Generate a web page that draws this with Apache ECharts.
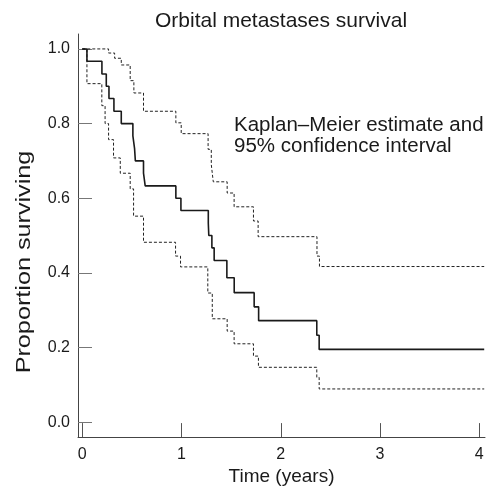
<!DOCTYPE html>
<html>
<head>
<meta charset="utf-8">
<script src="https://cdn.jsdelivr.net/npm/echarts@6/dist/echarts.min.js"></script>
<style>
html,body{margin:0;padding:0;background:#fff;}
#c{width:489px;height:491px;}
</style>
</head>
<body>
<div id="c"></div>
<script>
// Kaplan–Meier estimate: time (years) where the step occurs, survival after the step
var kmTimes  = [0, 0.047, 0.198, 0.242, 0.269, 0.319, 0.393, 0.51, 0.527, 0.535, 0.617, 0.634, 0.943, 0.994, 1.270, 1.275, 1.306, 1.329, 1.457, 1.531, 1.732, 1.777, 2.363, 2.387, 4.05];
var kmValues = [1, 0.967, 0.933, 0.9, 0.867, 0.833, 0.8, 0.767, 0.733, 0.7, 0.667, 0.633, 0.6, 0.567, 0.533, 0.5, 0.467, 0.433, 0.387, 0.347, 0.309, 0.272, 0.233, 0.195, 0.195];
// Upper 95% confidence limit
var upTimes  = [0, 0.265, 0.326, 0.393, 0.483, 0.52, 0.617, 0.943, 0.997, 1.268, 1.30, 1.32, 1.46, 1.53, 1.725, 1.772, 2.365, 2.39, 4.05];
var upValues = [1, 0.989, 0.975, 0.957, 0.915, 0.882, 0.833, 0.802, 0.773, 0.731, 0.69, 0.644, 0.614, 0.577, 0.539, 0.497, 0.445, 0.417, 0.417];
// Lower 95% confidence limit
var loTimes  = [0, 0.047, 0.197, 0.23, 0.265, 0.315, 0.383, 0.483, 0.517, 0.617, 0.94, 0.99, 1.265, 1.31, 1.46, 1.53, 1.725, 1.775, 2.363, 2.387, 4.05];
var loValues = [1, 0.907, 0.848, 0.8, 0.757, 0.708, 0.667, 0.625, 0.552, 0.482, 0.445, 0.416, 0.346, 0.277, 0.244, 0.21, 0.177, 0.147, 0.12, 0.089, 0.089];
// Tick values
var xTicks = [0, 1, 2, 3, 4];
var yTicks = [0, 0.2, 0.4, 0.6, 0.8, 1.0];

var titleText = 'Orbital metastases survival';
var xName = 'Time (years)';
var yName = 'Proportion surviving';
var noteLines = ['Kaplan\u2013Meier estimate and', '95% confidence interval'];

function pairs(t, v){ return t.map(function(x,i){ return [x, v[i]]; }); }

var FONT = '"Liberation Sans", Arial, sans-serif';
var chart = echarts.init(document.getElementById('c'), null, {renderer:'canvas'});
chart.setOption({
  animation:false,
  grid:{left:78, right:4, top:34, bottom:51, containLabel:false},
  xAxis:{
    type:'value', min:-0.043, max:4.058,
    name:xName, nameLocation:'middle', nameGap:26,
    nameTextStyle:{fontFamily:FONT, fontSize:19, color:'#1a1a1a'},
    axisLine:{onZero:false, lineStyle:{color:'#444', width:1}},
    axisTick:{inside:true, length:14, customValues:xTicks, lineStyle:{color:'#555'}},
    axisLabel:{customValues:xTicks, margin:9, fontFamily:FONT, fontSize:16, color:'#1a1a1a',
      formatter:function(v){return String(Math.round(v));}},
    splitLine:{show:false}
  },
  yAxis:{
    type:'value', min:-0.04, max:1.04,
    axisLine:{show:true, onZero:false, lineStyle:{color:'#444', width:1}},
    axisTick:{show:true, inside:true, length:14, customValues:yTicks, lineStyle:{color:'#777'}},
    axisLabel:{customValues:yTicks, margin:8, fontFamily:FONT, fontSize:16, color:'#1a1a1a',
      formatter:function(v){return v.toFixed(1);}},
    splitLine:{show:false}
  },
  graphic:[
    {type:'text', x:281, y:21, style:{text:titleText, font:'21px '+FONT, fill:'#1a1a1a', textAlign:'center', textVerticalAlign:'middle'}},
    {type:'text', x:24, y:262, rotation:Math.PI/2, scaleX:1.2, style:{text:yName, font:'21px '+FONT, fill:'#1a1a1a', textAlign:'center', textVerticalAlign:'middle'}},
    {type:'text', x:234, y:125, style:{text:noteLines[0], font:'20.5px '+FONT, fill:'#1a1a1a', textAlign:'left', textVerticalAlign:'middle'}},
    {type:'text', x:234, y:146, style:{text:noteLines[1], font:'20.5px '+FONT, fill:'#1a1a1a', textAlign:'left', textVerticalAlign:'middle'}}
  ],
  series:[
    {type:'line', step:'end', data:pairs(upTimes, upValues), showSymbol:false, symbol:'none',
      lineStyle:{color:'#222', width:1, type:[3,2]}},
    {type:'line', step:'end', data:pairs(loTimes, loValues), showSymbol:false, symbol:'none',
      lineStyle:{color:'#222', width:1, type:[3,2]}},
    {type:'line', step:'end', data:pairs(kmTimes, kmValues), showSymbol:false, symbol:'none',
      lineStyle:{color:'#1a1a1a', width:1.6}}
  ]
});
</script>
</body>
</html>
